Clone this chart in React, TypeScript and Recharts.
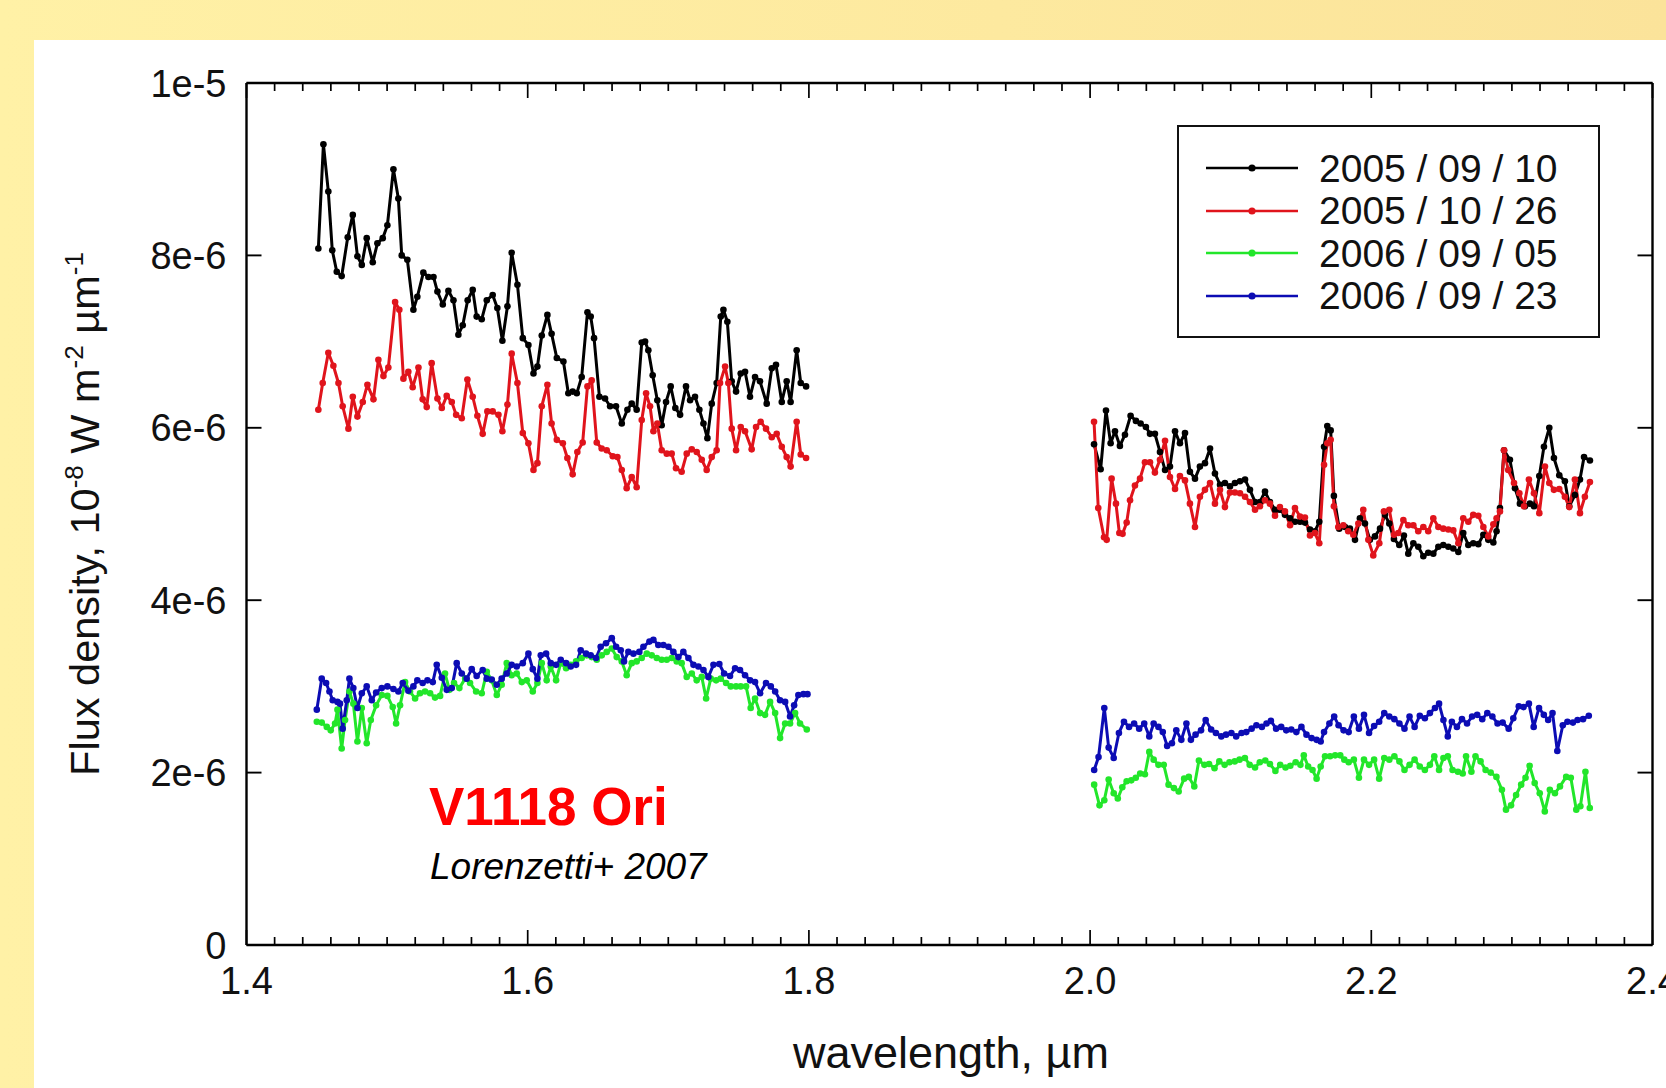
import React from 'react';
import { LineChart, Line, XAxis, YAxis, Legend } from 'recharts';

type Pt = [number, number];

// wavelength (µm), flux density in units of 1e-6
const blackH: Pt[] = [[1.4511,8.08],[1.4547,9.29],[1.4582,8.74],[1.4610,8.06],[1.4642,7.81],[1.4677,7.76],[1.4720,8.21],[1.4756,8.47],[1.4789,7.99],[1.4820,7.89],[1.4855,8.20],[1.4898,7.92],[1.4931,8.14],[1.4969,8.20],[1.5002,8.35],[1.5045,9.00],[1.5080,8.66],[1.5104,8.00],[1.5144,7.95],[1.5187,7.37],[1.5215,7.52],[1.5258,7.80],[1.5294,7.75],[1.5330,7.75],[1.5358,7.58],[1.5396,7.43],[1.5436,7.59],[1.5472,7.48],[1.5507,7.08],[1.5538,7.19],[1.5573,7.48],[1.5609,7.60],[1.5637,7.29],[1.5673,7.26],[1.5709,7.48],[1.5751,7.54],[1.5784,7.39],[1.5820,7.01],[1.5856,7.41],[1.5886,8.03],[1.5927,7.66],[1.5965,7.04],[1.6005,6.96],[1.6041,6.63],[1.6069,6.71],[1.6100,7.07],[1.6140,7.31],[1.6170,7.09],[1.6207,6.81],[1.6254,6.77],[1.6289,6.40],[1.6320,6.42],[1.6349,6.40],[1.6384,6.59],[1.6425,7.34],[1.6448,7.29],[1.6472,7.04],[1.6510,6.36],[1.6550,6.34],[1.6586,6.25],[1.6628,6.25],[1.6669,6.05],[1.6709,6.21],[1.6740,6.28],[1.6775,6.21],[1.6811,6.99],[1.6835,7.00],[1.6858,6.90],[1.6889,6.61],[1.6922,6.32],[1.6953,6.03],[1.6984,6.30],[1.7017,6.48],[1.7050,6.23],[1.7084,6.15],[1.7126,6.48],[1.7155,6.32],[1.7190,6.36],[1.7221,6.21],[1.7250,6.05],[1.7278,5.88],[1.7309,6.28],[1.7344,6.52],[1.7373,7.29],[1.7392,7.37],[1.7420,7.23],[1.7451,6.54],[1.7482,6.42],[1.7515,6.63],[1.7546,6.65],[1.7581,6.36],[1.7617,6.59],[1.7652,6.54],[1.7700,6.28],[1.7736,6.69],[1.7766,6.73],[1.7807,6.30],[1.7842,6.54],[1.7870,6.30],[1.7913,6.90],[1.7942,6.52],[1.7980,6.48]];

const redH: Pt[] = [[1.4511,6.21],[1.4542,6.52],[1.4582,6.87],[1.4618,6.72],[1.4654,6.52],[1.4684,6.25],[1.4725,5.99],[1.4756,6.36],[1.4789,6.13],[1.4827,6.30],[1.4860,6.50],[1.4903,6.33],[1.4938,6.79],[1.4974,6.60],[1.5009,6.70],[1.5057,7.46],[1.5087,7.37],[1.5116,6.57],[1.5151,6.65],[1.5182,6.47],[1.5223,6.70],[1.5253,6.33],[1.5282,6.24],[1.5317,6.75],[1.5358,6.34],[1.5389,6.23],[1.5424,6.37],[1.5460,6.30],[1.5491,6.15],[1.5531,6.11],[1.5571,6.56],[1.5609,6.36],[1.5642,6.14],[1.5680,5.93],[1.5713,6.19],[1.5751,6.19],[1.5792,6.15],[1.5820,5.96],[1.5856,6.27],[1.5886,6.86],[1.5927,6.52],[1.5965,5.94],[1.6005,5.82],[1.6041,5.51],[1.6069,5.59],[1.6100,6.25],[1.6140,6.50],[1.6170,6.05],[1.6207,5.86],[1.6250,5.82],[1.6282,5.65],[1.6320,5.46],[1.6353,5.72],[1.6391,5.83],[1.6425,6.48],[1.6455,6.55],[1.6491,5.83],[1.6526,5.76],[1.6562,5.74],[1.6605,5.67],[1.6638,5.66],[1.6669,5.51],[1.6704,5.30],[1.6740,5.43],[1.6775,5.31],[1.6811,6.09],[1.6842,6.40],[1.6870,6.25],[1.6894,5.96],[1.6922,6.05],[1.6953,5.74],[1.6989,5.70],[1.7024,5.70],[1.7055,5.53],[1.7095,5.49],[1.7131,5.70],[1.7167,5.75],[1.7202,5.72],[1.7238,5.63],[1.7273,5.51],[1.7309,5.66],[1.7344,5.74],[1.7368,6.52],[1.7404,6.71],[1.7427,6.52],[1.7451,5.99],[1.7482,5.74],[1.7515,6.01],[1.7546,5.96],[1.7593,5.75],[1.7624,6.01],[1.7657,6.07],[1.7695,5.99],[1.7736,5.89],[1.7771,5.93],[1.7807,5.78],[1.7842,5.66],[1.7870,5.55],[1.7913,6.07],[1.7942,5.69],[1.7980,5.65]];

const greenH: Pt[] = [[1.4500,2.59],[1.4535,2.58],[1.4571,2.53],[1.4599,2.49],[1.4630,2.57],[1.4647,2.73],[1.4677,2.28],[1.4701,2.61],[1.4732,2.94],[1.4760,2.80],[1.4789,2.36],[1.4820,2.75],[1.4855,2.34],[1.4884,2.61],[1.4922,2.78],[1.4962,2.90],[1.5002,2.89],[1.5040,2.76],[1.5064,2.57],[1.5092,2.78],[1.5128,3.05],[1.5163,2.94],[1.5199,2.86],[1.5234,2.92],[1.5270,2.94],[1.5306,2.92],[1.5341,2.87],[1.5377,2.89],[1.5412,3.15],[1.5443,2.96],[1.5476,3.04],[1.5514,2.98],[1.5555,3.09],[1.5590,3.04],[1.5633,2.94],[1.5673,2.92],[1.5709,3.17],[1.5744,3.07],[1.5780,2.90],[1.5815,3.02],[1.5851,3.27],[1.5886,3.13],[1.5922,3.15],[1.5958,3.05],[1.5993,3.07],[1.6036,2.94],[1.6069,3.04],[1.6100,3.27],[1.6135,3.07],[1.6164,3.23],[1.6202,3.07],[1.6235,3.27],[1.6273,3.21],[1.6306,3.25],[1.6344,3.29],[1.6384,3.33],[1.6420,3.36],[1.6455,3.34],[1.6491,3.31],[1.6527,3.36],[1.6562,3.40],[1.6598,3.44],[1.6633,3.34],[1.6669,3.29],[1.6704,3.13],[1.6740,3.27],[1.6775,3.29],[1.6811,3.33],[1.6847,3.38],[1.6882,3.36],[1.6918,3.33],[1.6953,3.31],[1.6989,3.31],[1.7024,3.33],[1.7060,3.29],[1.7095,3.27],[1.7131,3.11],[1.7167,3.15],[1.7202,3.07],[1.7238,3.11],[1.7269,2.86],[1.7302,3.09],[1.7340,3.07],[1.7373,3.09],[1.7411,3.04],[1.7444,3.00],[1.7482,3.00],[1.7515,3.00],[1.7553,3.00],[1.7586,2.75],[1.7617,2.86],[1.7653,2.69],[1.7688,2.67],[1.7724,2.82],[1.7760,2.69],[1.7795,2.40],[1.7831,2.57],[1.7866,2.57],[1.7902,2.69],[1.7937,2.57],[1.7985,2.50]];

const blueH: Pt[] = [[1.4500,2.73],[1.4535,3.09],[1.4566,3.04],[1.4590,2.94],[1.4613,2.84],[1.4647,2.82],[1.4665,2.80],[1.4684,2.51],[1.4713,2.84],[1.4732,3.09],[1.4760,2.98],[1.4789,2.75],[1.4820,2.92],[1.4855,3.00],[1.4891,2.84],[1.4922,2.93],[1.4962,2.98],[1.5002,3.00],[1.5045,2.97],[1.5080,2.94],[1.5111,3.04],[1.5151,2.95],[1.5187,3.00],[1.5215,3.07],[1.5253,3.04],[1.5287,3.07],[1.5325,3.05],[1.5353,3.25],[1.5389,3.10],[1.5424,2.96],[1.5460,2.98],[1.5495,3.27],[1.5531,3.15],[1.5566,3.09],[1.5602,3.20],[1.5637,3.12],[1.5680,3.19],[1.5709,3.09],[1.5744,3.08],[1.5780,3.02],[1.5815,3.09],[1.5851,3.15],[1.5886,3.25],[1.5922,3.23],[1.5965,3.27],[1.6005,3.38],[1.6036,3.20],[1.6069,3.09],[1.6093,3.36],[1.6131,3.38],[1.6164,3.27],[1.6202,3.25],[1.6235,3.31],[1.6273,3.27],[1.6306,3.23],[1.6344,3.25],[1.6377,3.42],[1.6415,3.38],[1.6448,3.36],[1.6486,3.33],[1.6519,3.46],[1.6557,3.50],[1.6598,3.56],[1.6629,3.46],[1.6662,3.42],[1.6685,3.29],[1.6716,3.40],[1.6752,3.38],[1.6794,3.40],[1.6823,3.46],[1.6866,3.52],[1.6894,3.54],[1.6929,3.48],[1.6965,3.48],[1.7001,3.46],[1.7036,3.40],[1.7072,3.34],[1.7107,3.40],[1.7143,3.33],[1.7179,3.25],[1.7214,3.23],[1.7250,3.19],[1.7285,3.11],[1.7321,3.25],[1.7363,3.26],[1.7397,3.15],[1.7439,3.12],[1.7475,3.21],[1.7510,3.19],[1.7546,3.13],[1.7582,3.07],[1.7617,3.05],[1.7653,2.92],[1.7695,3.04],[1.7729,3.00],[1.7760,2.94],[1.7795,2.84],[1.7831,2.82],[1.7866,2.65],[1.7895,2.78],[1.7925,2.90],[1.7961,2.91],[1.7990,2.91]];

const blackK: Pt[] = [[2.0028,5.81],[2.0075,5.52],[2.0113,6.20],[2.0146,5.82],[2.0177,5.96],[2.0212,5.79],[2.0248,5.92],[2.0288,6.14],[2.0326,6.08],[2.0359,6.05],[2.0397,6.01],[2.0426,5.93],[2.0461,5.93],[2.0497,5.72],[2.0533,5.51],[2.0568,5.55],[2.0604,5.96],[2.0639,5.82],[2.0675,5.94],[2.0710,5.49],[2.0746,5.41],[2.0781,5.55],[2.0817,5.59],[2.0853,5.76],[2.0888,5.47],[2.0924,5.34],[2.0959,5.36],[2.0995,5.32],[2.1030,5.36],[2.1066,5.38],[2.1102,5.40],[2.1137,5.28],[2.1173,5.14],[2.1208,5.14],[2.1244,5.26],[2.1279,5.14],[2.1315,5.05],[2.1350,5.05],[2.1386,4.99],[2.1422,4.95],[2.1457,4.91],[2.1493,4.91],[2.1528,4.90],[2.1564,4.82],[2.1599,4.80],[2.1630,4.91],[2.1664,5.78],[2.1687,6.02],[2.1711,5.97],[2.1734,5.21],[2.1772,4.83],[2.1813,4.85],[2.1848,4.83],[2.1884,4.70],[2.1919,4.95],[2.1955,4.89],[2.1990,4.70],[2.2026,4.74],[2.2062,4.83],[2.2097,4.99],[2.2128,4.89],[2.2161,4.71],[2.2199,4.64],[2.2232,4.75],[2.2263,4.54],[2.2299,4.66],[2.2334,4.62],[2.2370,4.51],[2.2405,4.55],[2.2441,4.54],[2.2477,4.62],[2.2512,4.64],[2.2548,4.62],[2.2583,4.60],[2.2619,4.56],[2.2654,4.78],[2.2690,4.64],[2.2725,4.66],[2.2761,4.65],[2.2797,4.76],[2.2832,4.70],[2.2868,4.67],[2.2891,4.80],[2.2915,5.07],[2.2944,5.74],[2.2986,5.63],[2.3022,5.30],[2.3057,5.12],[2.3093,5.09],[2.3128,5.12],[2.3157,5.09],[2.3195,5.44],[2.3228,5.78],[2.3266,6.00],[2.3299,5.65],[2.3337,5.45],[2.3377,5.38],[2.3408,5.09],[2.3448,5.22],[2.3484,5.40],[2.3513,5.66],[2.3555,5.62]];

const redK: Pt[] = [[2.0028,6.07],[2.0058,5.07],[2.0099,4.73],[2.0118,4.70],[2.0153,5.41],[2.0184,5.12],[2.0208,4.78],[2.0231,4.77],[2.0260,4.90],[2.0284,5.16],[2.0319,5.33],[2.0355,5.41],[2.0390,5.60],[2.0426,5.60],[2.0461,5.48],[2.0497,5.63],[2.0533,5.85],[2.0568,5.43],[2.0604,5.29],[2.0639,5.44],[2.0675,5.39],[2.0710,5.12],[2.0746,4.85],[2.0781,5.20],[2.0817,5.28],[2.0853,5.36],[2.0888,5.12],[2.0924,5.28],[2.0959,5.08],[2.0995,5.25],[2.1030,5.25],[2.1066,5.24],[2.1102,5.20],[2.1137,5.14],[2.1173,5.05],[2.1208,5.09],[2.1244,5.16],[2.1279,5.12],[2.1315,4.98],[2.1350,5.08],[2.1386,5.03],[2.1422,4.87],[2.1457,5.07],[2.1493,4.97],[2.1528,4.96],[2.1564,4.75],[2.1599,4.78],[2.1630,4.66],[2.1664,5.57],[2.1687,5.82],[2.1711,5.86],[2.1734,5.09],[2.1765,4.85],[2.1801,4.87],[2.1836,4.80],[2.1872,4.76],[2.1908,4.89],[2.1943,5.05],[2.1979,4.70],[2.2014,4.52],[2.2057,4.66],[2.2090,5.03],[2.2128,5.05],[2.2161,4.76],[2.2192,4.78],[2.2228,4.93],[2.2263,4.87],[2.2299,4.87],[2.2334,4.80],[2.2370,4.85],[2.2405,4.80],[2.2441,4.95],[2.2477,4.85],[2.2512,4.83],[2.2548,4.82],[2.2583,4.81],[2.2619,4.66],[2.2654,4.95],[2.2690,4.91],[2.2725,4.99],[2.2761,4.98],[2.2797,4.85],[2.2832,4.74],[2.2868,4.88],[2.2891,4.95],[2.2915,5.03],[2.2944,5.74],[2.2974,5.51],[2.3015,5.36],[2.3053,5.24],[2.3086,5.09],[2.3121,5.40],[2.3157,5.24],[2.3195,5.01],[2.3235,5.55],[2.3266,5.36],[2.3299,5.28],[2.3337,5.29],[2.3377,5.20],[2.3408,5.08],[2.3448,5.40],[2.3484,5.01],[2.3519,5.20],[2.3555,5.37]];

const greenK: Pt[] = [[2.0029,1.86],[2.0067,1.62],[2.0101,1.68],[2.0132,1.92],[2.0168,1.76],[2.0197,1.70],[2.0229,1.83],[2.0260,1.90],[2.0293,1.91],[2.0325,1.94],[2.0356,1.99],[2.0390,1.98],[2.0421,2.24],[2.0452,2.15],[2.0486,2.09],[2.0524,2.09],[2.0558,1.86],[2.0596,1.82],[2.0630,1.78],[2.0669,1.93],[2.0702,1.95],[2.0741,1.84],[2.0774,2.14],[2.0813,2.09],[2.0846,2.10],[2.0885,2.05],[2.0919,2.13],[2.0957,2.09],[2.0991,2.12],[2.1029,2.13],[2.1063,2.15],[2.1101,2.17],[2.1135,2.09],[2.1173,2.06],[2.1207,2.12],[2.1246,2.14],[2.1279,2.10],[2.1318,2.02],[2.1352,2.09],[2.1390,2.06],[2.1424,2.08],[2.1462,2.12],[2.1496,2.09],[2.1520,2.20],[2.1551,2.07],[2.1582,2.03],[2.1611,1.93],[2.1640,2.07],[2.1671,2.19],[2.1707,2.19],[2.1743,2.20],[2.1779,2.20],[2.1808,2.15],[2.1839,2.12],[2.1876,2.15],[2.1912,1.94],[2.1948,2.15],[2.1984,2.09],[2.2020,2.15],[2.2056,1.93],[2.2092,2.17],[2.2128,2.15],[2.2164,2.19],[2.2200,2.13],[2.2236,2.03],[2.2272,2.09],[2.2308,2.15],[2.2345,2.07],[2.2381,2.03],[2.2417,2.09],[2.2448,2.19],[2.2482,2.03],[2.2513,2.17],[2.2544,2.19],[2.2578,2.03],[2.2616,2.01],[2.2650,1.99],[2.2674,2.19],[2.2712,2.01],[2.2741,2.19],[2.2777,2.13],[2.2813,2.03],[2.2849,2.00],[2.2890,1.95],[2.2929,1.80],[2.2958,1.57],[2.2994,1.62],[2.3030,1.74],[2.3066,1.86],[2.3097,1.94],[2.3126,2.08],[2.3162,1.88],[2.3198,1.76],[2.3234,1.55],[2.3270,1.80],[2.3306,1.76],[2.3342,1.84],[2.3386,1.95],[2.3419,1.94],[2.3458,1.57],[2.3487,1.61],[2.3523,2.01],[2.3554,1.59]];

const blueK: Pt[] = [[2.0029,2.03],[2.0060,2.18],[2.0101,2.75],[2.0132,2.29],[2.0168,2.17],[2.0205,2.46],[2.0241,2.59],[2.0277,2.53],[2.0313,2.57],[2.0349,2.51],[2.0385,2.57],[2.0421,2.42],[2.0452,2.57],[2.0486,2.53],[2.0517,2.47],[2.0548,2.31],[2.0582,2.34],[2.0613,2.49],[2.0649,2.38],[2.0685,2.57],[2.0717,2.38],[2.0750,2.44],[2.0789,2.49],[2.0822,2.61],[2.0861,2.50],[2.0895,2.46],[2.0933,2.42],[2.0967,2.44],[2.1005,2.46],[2.1039,2.42],[2.1077,2.46],[2.1111,2.47],[2.1149,2.51],[2.1183,2.55],[2.1222,2.53],[2.1255,2.57],[2.1286,2.60],[2.1323,2.51],[2.1359,2.53],[2.1395,2.49],[2.1431,2.50],[2.1467,2.47],[2.1503,2.53],[2.1539,2.44],[2.1575,2.40],[2.1611,2.38],[2.1640,2.36],[2.1664,2.47],[2.1702,2.57],[2.1736,2.65],[2.1767,2.55],[2.1803,2.49],[2.1839,2.47],[2.1876,2.65],[2.1912,2.51],[2.1948,2.67],[2.1984,2.46],[2.2020,2.54],[2.2056,2.59],[2.2092,2.69],[2.2128,2.65],[2.2164,2.62],[2.2200,2.57],[2.2236,2.51],[2.2272,2.65],[2.2308,2.53],[2.2345,2.66],[2.2381,2.63],[2.2417,2.69],[2.2453,2.75],[2.2482,2.80],[2.2513,2.61],[2.2544,2.42],[2.2573,2.59],[2.2609,2.53],[2.2645,2.62],[2.2681,2.57],[2.2717,2.65],[2.2753,2.67],[2.2789,2.62],[2.2825,2.69],[2.2861,2.65],[2.2898,2.57],[2.2934,2.58],[2.2977,2.51],[2.3010,2.63],[2.3049,2.77],[2.3083,2.76],[2.3121,2.80],[2.3155,2.53],[2.3193,2.75],[2.3227,2.67],[2.3258,2.61],[2.3289,2.69],[2.3323,2.25],[2.3362,2.55],[2.3395,2.59],[2.3434,2.58],[2.3467,2.61],[2.3506,2.62],[2.3547,2.66]];

const SERIES_NAMES = ['2005 / 09 / 10', '2005 / 10 / 26', '2006 / 09 / 05', '2006 / 09 / 23'];
const SERIES_COLORS = ['#000000', '#e0141c', '#22e62a', '#0c0cb4'];
const SERIES_BANDS: Pt[][][] = [[blackH, blackK], [redH, redK], [greenH, greenK], [blueH, blueK]];

const X_DOMAIN = [1.4, 2.4];
const X_MAJOR = [1.4, 1.6, 1.8, 2.0, 2.2, 2.4];
const X_MAJOR_LABELS = ['1.4', '1.6', '1.8', '2.0', '2.2', '2.4'];
const X_TICKS = Array.from({ length: 51 }, (_, i) => Math.round((1.4 + i * 0.02) * 100) / 100);
const Y_TICKS = [0, 2, 4, 6, 8, 10];
const Y_LABELS = ['0', '2e-6', '4e-6', '6e-6', '8e-6', '1e-5'];

const FONT = '"Liberation Sans", Arial, Helvetica, sans-serif';
const TEXT = '#111';

const majorIndex = (v: number) => X_MAJOR.findIndex((m) => Math.abs(m - v) < 1e-6);

const BottomTick = (props: any) => {
  const { x, y, payload } = props;
  const mi = majorIndex(payload.value);
  return (
    <g>
      <line x1={x} y1={y} x2={x} y2={y - (mi >= 0 ? 15 : 8)} stroke="#000" strokeWidth={1.7} />
      {mi >= 0 && (
        <text x={x} y={y + 49} textAnchor="middle" fontSize={38} fill={TEXT} fontFamily={FONT}>
          {X_MAJOR_LABELS[mi]}
        </text>
      )}
    </g>
  );
};

const TopTick = (props: any) => {
  const { x, y, payload } = props;
  const mi = majorIndex(payload.value);
  return <line x1={x} y1={y} x2={x} y2={y + (mi >= 0 ? 15 : 8)} stroke="#000" strokeWidth={1.7} />;
};

const LeftTick = (props: any) => {
  const { x, y, payload } = props;
  const i = Y_TICKS.indexOf(payload.value);
  return (
    <g>
      <line x1={x} y1={y} x2={x + 15} y2={y} stroke="#000" strokeWidth={1.9} />
      <text x={x - 20} y={y} dy="0.36em" textAnchor="end" fontSize={38} fill={TEXT} fontFamily={FONT}>
        {Y_LABELS[i]}
      </text>
    </g>
  );
};

const RightTick = (props: any) => {
  const { x, y } = props;
  return <line x1={x} y1={y} x2={x - 15} y2={y} stroke="#000" strokeWidth={1.9} />;
};

const LegendBox = () => (
  <div
    style={{
      width: 423,
      height: 213,
      boxSizing: 'border-box',
      border: '2px solid #111',
      background: '#fff',
      paddingTop: 20,
      fontFamily: FONT,
    }}
  >
    {SERIES_NAMES.map((name, i) => (
      <div key={name} style={{ display: 'flex', alignItems: 'center', height: 42.5, paddingLeft: 27 }}>
        <svg width={92} height={20} style={{ display: 'block' }}>
          <line x1={0} y1={10} x2={92} y2={10} stroke={SERIES_COLORS[i]} strokeWidth={2.4} />
          <circle cx={46} cy={10} r={3.6} fill={SERIES_COLORS[i]} />
        </svg>
        <span style={{ marginLeft: 21, fontSize: 39, color: TEXT, lineHeight: 1, whiteSpace: 'pre' }}>{name}</span>
      </div>
    ))}
  </div>
);

export default function App() {
  return (
    <div
      style={{
        position: 'fixed',
        left: 0,
        top: 0,
        width: 1666,
        height: 1088,
        overflow: 'hidden',
        background: 'linear-gradient(90deg, #fff1a6 0%, #fde99f 60%, #fbe39a 100%)',
      }}
    >
      <div style={{ position: 'absolute', left: 34, top: 40, right: 0, bottom: 0, background: '#fff' }} />
      <div style={{ position: 'absolute', left: 0, top: 0 }}>
        <LineChart width={1666} height={1088} margin={{ top: 63, right: 0, bottom: 83, left: 146.5 }}>
          <XAxis
            xAxisId="b"
            dataKey="x"
            type="number"
            domain={X_DOMAIN}
            ticks={X_TICKS}
            interval={0}
            allowDataOverflow
            height={60}
            tickSize={0}
            tickMargin={0}
            tickLine={false}
            tick={BottomTick}
            axisLine={{ stroke: '#000', strokeWidth: 2.4 }}
          />
          <XAxis
            xAxisId="t"
            dataKey="x"
            orientation="top"
            type="number"
            domain={X_DOMAIN}
            ticks={X_TICKS}
            interval={0}
            allowDataOverflow
            height={20}
            tickSize={0}
            tickMargin={0}
            tickLine={false}
            tick={TopTick}
            axisLine={{ stroke: '#000', strokeWidth: 2.4 }}
          />
          <YAxis
            yAxisId="l"
            type="number"
            domain={[0, 10]}
            ticks={Y_TICKS}
            interval={0}
            allowDataOverflow
            width={100}
            tickSize={0}
            tickMargin={0}
            tickLine={false}
            tick={LeftTick}
            axisLine={{ stroke: '#000', strokeWidth: 2.4 }}
          />
          <YAxis
            yAxisId="r"
            orientation="right"
            type="number"
            domain={[0, 10]}
            ticks={Y_TICKS}
            interval={0}
            allowDataOverflow
            width={13.5}
            tickSize={0}
            tickMargin={0}
            tickLine={false}
            tick={RightTick}
            axisLine={{ stroke: '#000', strokeWidth: 2.4 }}
          />
          <Legend
            layout="vertical"
            align="center"
            verticalAlign="middle"
            wrapperStyle={{ left: 1177, top: 125, width: 423, height: 213 }}
            content={() => <LegendBox />}
          />
          {SERIES_BANDS.flatMap((bands, si) =>
            bands.map((band, bi) => (
              <Line
                key={`${si}-${bi}`}
                xAxisId={bi === 0 ? 'b' : 't'}
                yAxisId="l"
                name={SERIES_NAMES[si]}
                data={band.map(([x, y]) => ({ x, y }))}
                dataKey="y"
                type="linear"
                stroke={SERIES_COLORS[si]}
                strokeWidth={3}
                strokeLinejoin="round"
                dot={{ r: 3.3, fill: SERIES_COLORS[si], stroke: SERIES_COLORS[si], strokeWidth: 0 }}
                activeDot={false}
                isAnimationActive={false}
              />
            ))
          )}
        </LineChart>
      </div>
      <svg
        width={1666}
        height={1088}
        style={{ position: 'absolute', left: 0, top: 0, pointerEvents: 'none' }}
        fontFamily={FONT}
      >
        <text x={951} y={1068} textAnchor="middle" fontSize={45} fill={TEXT}>
          wavelength, µm
        </text>
        <text transform="translate(99,514) rotate(-90)" textAnchor="middle" fontSize={41.5} fill={TEXT}>
          Flux density, 10
          <tspan dy={-16} fontSize={26}>-8</tspan>
          <tspan dy={16}> W m</tspan>
          <tspan dy={-16} fontSize={26}>-2</tspan>
          <tspan dy={16}> µm</tspan>
          <tspan dy={-16} fontSize={26}>-1</tspan>
        </text>
        <text x={429} y={825} fontSize={53} fontWeight="bold" fill="#ff0000">
          V1118 Ori
        </text>
        <text x={430} y={879} fontSize={37} fontStyle="italic" fill="#000">
          Lorenzetti+ 2007
        </text>
      </svg>
    </div>
  );
}
